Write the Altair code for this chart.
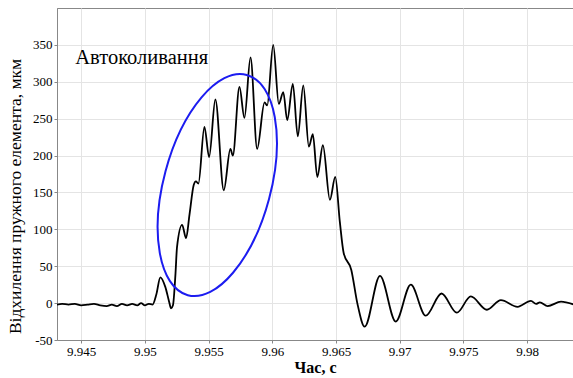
import altair as alt
import pandas as pd

time_s = [
    9.9431, 9.9435, 9.9440, 9.9445, 9.9450, 9.9455, 9.9460, 9.9465, 9.9470, 9.9474,
    9.9478, 9.9482, 9.9486, 9.9490, 9.9494, 9.9497, 9.9500, 9.9503, 9.9506, 9.9509,
    9.95121, 9.9516, 9.9519, 9.95205, 9.9522, 9.9524, 9.95252, 9.95292, 9.95323, 9.9535,
    9.95383, 9.9540, 9.9542, 9.95467, 9.95504, 9.95553, 9.95619, 9.95671, 9.9569, 9.95742,
    9.95781, 9.95829, 9.95881, 9.95939, 9.9596, 9.96007, 9.96051, 9.96086, 9.96117, 9.96161,
    9.96200, 9.96243, 9.96287, 9.96318, 9.96353, 9.96397, 9.96452, 9.96494, 9.9653, 9.9656,
    9.9662, 9.96667, 9.96725, 9.96845, 9.96969, 9.97087, 9.97204, 9.97328, 9.97448, 9.97558,
    9.97684, 9.97794, 9.97925, 9.9803, 9.9807, 9.9810, 9.98161, 9.98266, 9.98368,
]
deflection_um = [
    -2, -1, -2, -1, -3, -2, -1, -3, -4, -2,
    -4, -1, -3, -1, -3, 0, -3, -1, -2, 12,
    35, 22, 2, -7, -3, 40, 76, 106, 88, 120,
    160, 165, 162, 239, 198, 276, 153, 209, 200, 293,
    251, 333, 209, 272, 268, 350, 270, 286, 248, 297,
    226, 295, 212, 229, 171, 214, 140, 171, 110, 68,
    45, 0, -32, 37, -25, 25, -17, 13, -13, 9,
    -9, 4, -5, 3, -1, 1, -4, 2, -2,
]

x_ticks = [9.945, 9.95, 9.955, 9.96, 9.965, 9.97, 9.975, 9.98]
y_ticks = [-50, 0, 50, 100, 150, 200, 250, 300, 350]

label_text = ["Автоколивання"]
label_t = [9.94453]
label_d = [332]

ellipse_t = [9.95568]
ellipse_d = [160]

x_title = "Час, с"
y_title = "Відхилення пружного елемента, мкм"

df = pd.DataFrame({"t": time_s, "d": deflection_um})
df_label = pd.DataFrame({"t": label_t, "d": label_d, "txt": label_text})
df_ell = pd.DataFrame({"t": ellipse_t, "d": ellipse_d})

SERIF = "Liberation Serif"

x_scale = alt.Scale(domain=[9.9431, 9.9836], nice=False, zero=False)
y_scale = alt.Scale(domain=[-50, 400], nice=False, zero=False)

line = alt.Chart(df).mark_line(
    color="black", strokeWidth=1.8, interpolate="monotone", clip=True
).encode(
    x=alt.X("t:Q", scale=x_scale,
            axis=alt.Axis(values=x_ticks, labelExpr="'' + datum.value", title=x_title,
                          titleFontWeight="bold", titleFontSize=16, titlePadding=1,
                          labelFontSize=13, labelPadding=2)),
    y=alt.Y("d:Q", scale=y_scale,
            axis=alt.Axis(values=y_ticks, labelExpr="'' + datum.value", title=y_title,
                          titleFontWeight="normal", titleFontSize=17.5, titlePadding=8,
                          titleY=188, labelFontSize=13, labelPadding=2)),
)

ell_r = 0.47
k = 0.5523
path = (
    f"M 0 -1 C {k*ell_r:.4f} -1 {ell_r} {-k} {ell_r} 0 "
    f"C {ell_r} {k} {k*ell_r:.4f} 1 0 1 "
    f"C {-k*ell_r:.4f} 1 {-ell_r} {k} {-ell_r} 0 "
    f"C {-ell_r} {-k} {-k*ell_r:.4f} -1 0 -1 Z"
)

ellipse = alt.Chart(df_ell).mark_point(
    shape=path, filled=False, stroke="#1c1cf0", strokeWidth=2, size=228 * 228,
    angle=15, opacity=1
).encode(
    x=alt.X("t:Q", scale=x_scale),
    y=alt.Y("d:Q", scale=y_scale),
)

label = alt.Chart(df_label).mark_text(
    align="left", baseline="middle", font=SERIF, fontSize=20.5, color="black"
).encode(
    x=alt.X("t:Q", scale=x_scale),
    y=alt.Y("d:Q", scale=y_scale),
    text="txt:N",
)

chart = alt.layer(line, ellipse, label).properties(
    width=516, height=332,
    autosize=alt.AutoSizeParams(type="none"),
    padding={"left": 57, "top": 8, "right": 0, "bottom": 38},
    background="white",
).configure_axis(
    labelFont=SERIF, titleFont=SERIF, labelColor="black", titleColor="black",
    domainColor="#888888", tickColor="#888888", tickSize=3,
    gridColor="#e4e4e4", gridWidth=1,
).configure_view(
    stroke="#888888", strokeWidth=1
)

chart.save("out.html", embed_options={"renderer": "svg", "actions": False})
